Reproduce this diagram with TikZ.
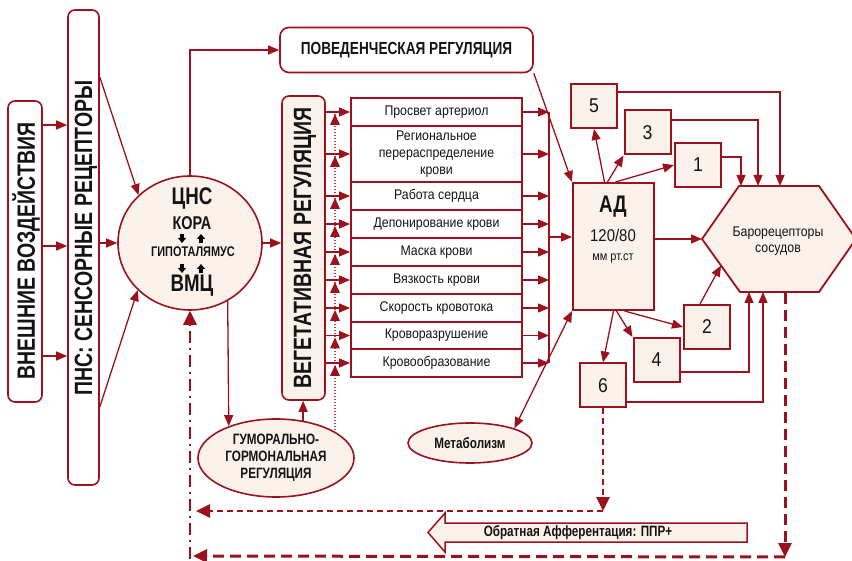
\documentclass[tikz,border=0pt]{standalone}
\usepackage{fontspec}
\usetikzlibrary{arrows.meta,shapes.geometric,calc}
\setmainfont{Liberation Sans}
\newfontfamily\fB{Liberation Sans}[FakeStretch=0.78]
\newfontfamily\fR{Liberation Sans}[FakeStretch=0.88]
\definecolor{dr}{RGB}{155,18,28}
\definecolor{bg}{RGB}{251,241,235}
\definecolor{tx}{RGB}{20,20,20}
\begin{document}
\begin{tikzpicture}[x=1pt,y=-1pt,
  tipa/.style={-{Triangle[length=11pt,width=9pt]}},
  con/.style={draw=dr, line width=1.3pt, tipa},
  bigtip/.style={-{Triangle[length=14pt,width=13pt]}},
  rbox/.style={draw=dr, line width=1.6pt, rounded corners=7pt, fill=white, inner sep=0pt},
  rot/.style={rotate=90, text=tx, inner sep=0pt, font=\fB\bfseries\fontsize{25}{25}\selectfont},
  lbox/.style={draw=dr, line width=1.8pt, fill=white, minimum width=171pt, inner sep=0pt, text=tx, align=center, font=\fR\fontsize{14}{17}\selectfont},
  nbox/.style={draw=dr, line width=2pt, fill=bg, minimum width=46pt, minimum height=44pt, inner sep=0pt, text=tx, font=\fR\fontsize{20}{20}\selectfont},
  btxt/.style={text=tx, inner sep=0pt, align=center},
  sa/.style={draw=black, line width=3.2pt, -{Triangle[length=5pt,width=8pt]}},
  fdash/.style={draw=dr, line width=3pt, dash pattern=on 11pt off 6pt, bigtip},
  sdash/.style={draw=dr, line width=2.6pt, dash pattern=on 6pt off 4pt, bigtip}
]
\useasboundingbox (0,0) rectangle (852,561);

% left boxes
\node[rbox, minimum width=34pt, minimum height=301pt] (ext) at (25,251.5) {};
\node[rot] (extt) at (26,251) {ВНЕШНИЕ ВОЗДЕЙСТВИЯ};
\node[rbox, minimum width=31pt, minimum height=475pt] (pns) at (83.5,247.5) {};
\node[rot] (pnst) at (86,238) {ПНС: СЕНСОРНЫЕ РЕЦЕПТОРЫ};

\draw[con] ([yshift=126.5pt]ext.east) -- ([yshift=126.5pt]ext.east -| pns.west);
\draw[con] ([yshift=5.5pt]ext.east) -- ([yshift=5.5pt]ext.east -| pns.west);
\draw[con] ([yshift=-104.5pt]ext.east) -- ([yshift=-104.5pt]ext.east -| pns.west);

% CNS
\node[draw=dr, line width=1.6pt, fill=bg, ellipse, minimum width=144pt, minimum height=134pt, inner sep=0pt] (cns) at (190,243) {};
\node[btxt, font=\fB\bfseries\fontsize{24}{24}\selectfont] (cnst) at (192,198.5) {ЦНС};
\node[btxt, font=\fB\bfseries\fontsize{18.5}{18}\selectfont] (kora) at (192,223.5) {КОРА};
\node[btxt, font=\fB\bfseries\fontsize{14}{14}\selectfont] (gip) at (193,252) {ГИПОТАЛЯМУС};
\node[btxt, font=\fB\bfseries\fontsize{24}{24}\selectfont] (vmc) at (192,286) {ВМЦ};
\coordinate (k1) at (182,234); \coordinate (k2) at (182,243);
\coordinate (k3) at (201,243); \coordinate (k4) at (201,234);
\coordinate (g1) at (182,264); \coordinate (g2) at (182,273);
\coordinate (g3) at (201,273); \coordinate (g4) at (201,264);
\draw[sa] (k1) -- (k2); \draw[sa] (k3) -- (k4);
\draw[sa] (g1) -- (g2); \draw[sa] (g3) -- (g4);

\draw[con] ([yshift=170.5pt]pns.east) -- (cns.137);
\draw[con] (pns.east |- cns.west) -- (cns.west);
\draw[con] ([yshift=-159.5pt]pns.east) -- (cns.222);

% behavioural
\node[rbox, minimum width=253pt, minimum height=45pt, rounded corners=9pt, text=tx, font=\fB\bfseries\fontsize{17.5}{17}\selectfont] (pov) at (406.5,50) {ПОВЕДЕНЧЕСКАЯ РЕГУЛЯЦИЯ};
\draw[con] (cns.north) |- (pov.west);

% vegetative
\node[rbox, fill=bg, minimum width=43pt, minimum height=304pt] (veg) at (303.5,248) {};
\node[rot] (vegt) at (305,248) {ВЕГЕТАТИВНАЯ РЕГУЛЯЦИЯ};
\draw[con] (cns.east) -- (cns.east -| veg.west);

% list
\node[lbox, minimum height=28pt] (r1) at (436.5,112) {Просвет артериол};
\node[lbox, minimum height=56pt] (r2) at (436.5,154) {Региональное\\перераспределение\\крови};
\node[lbox, minimum height=28pt] (r3) at (436.5,196) {Работа сердца};
\node[lbox, minimum height=28pt] (r4) at (436.5,224) {Депонирование крови};
\node[lbox, minimum height=28pt] (r5) at (436.5,252) {Маска крови};
\node[lbox, minimum height=28pt] (r6) at (436.5,280) {Вязкость крови};
\node[lbox, minimum height=28pt] (r7) at (436.5,308) {Скорость кровотока};
\node[lbox, minimum height=27pt] (r8) at (436.5,335.5) {Кроворазрушение};
\node[lbox, minimum height=28pt] (r9) at (436.5,363) {Кровообразование};

% dotted line from humoral
\coordinate (d0) at (335,430);
\coordinate (d1) at (335,112);
\draw[dr!80, line width=1.1pt, dash pattern=on 1pt off 2pt] (d0) -- (d1);

\coordinate (c1) at (549,112);
\coordinate (c9) at (549,363);
\coordinate (cm) at (549,237);
\draw[dr, line width=1.3pt] (c1) -- (c9);
\foreach \i in {1,...,9}{
  \draw[con] (r\i.east) -- (r\i.east -| c1);
  \draw[con] (r\i.west -| veg.east) -- (r\i.west);
  \coordinate (ta\i) at (r\i.west -| d0);
  \fill[dr] ([shift={(-5,13)}]ta\i) -- ([shift={(5,13)}]ta\i) -- ([shift={(0,2)}]ta\i) -- cycle;
}

% AD
\node[draw=dr, line width=2pt, fill=bg, minimum width=81pt, minimum height=127pt, inner sep=0pt] (ad) at (613.5,246.5) {};
\node[btxt, font=\fB\bfseries\fontsize{24}{24}\selectfont] (adt) at (613,207) {АД};
\node[btxt, font=\fR\fontsize{17}{17}\selectfont] (adn) at (613,235) {120/80};
\node[btxt, font=\fR\fontsize{12.5}{13}\selectfont] (adu) at (613,258) {мм рт.ст};
\draw[con] (cm) -- (cm -| ad.west);
\draw[con] (pov.south east) -- (ad.north west);

% number boxes
\node[nbox] (b5) at (594,106) {5};
\node[nbox] (b3) at (647.5,132.5) {3};
\node[nbox] (b1) at (698,165) {1};
\node[nbox] (b2) at (707,327) {2};
\node[nbox] (b4) at (656.5,360) {4};
\node[nbox] (b6) at (603,385.5) {6};

\draw[con] ([xshift=-9pt]ad.north) -- (b5.south);
\draw[con] ([xshift=-6pt]ad.north) -- (b3.south west);
\draw[con] ([xshift=2pt]ad.north) -- (b1.west);
\draw[con] ([xshift=11pt]ad.south) -- (b2.west);
\draw[con] ([xshift=3pt]ad.south) -- (b4.north west);
\draw[con] ([xshift=0pt]ad.south) -- (b6.north);

% hexagon
\coordinate (hL) at (702,239);
\coordinate (hTL) at (739,186);
\coordinate (hTR) at (819,186);
\coordinate (hR) at (856,239);
\coordinate (hBR) at (819,292);
\coordinate (hBL) at (740,292);
\draw[draw=dr, line width=1.8pt, fill=bg] (hL) -- (hTL) -- (hTR) -- (hR) -- (hBR) -- (hBL) -- cycle;
\node[btxt, font=\fR\fontsize{14}{16}\selectfont] (baro) at (778,241) {Барорецепторы\\сосудов};
\coordinate (h5) at (780,186);
\coordinate (h3) at (758,186);
\coordinate (h1) at (741,186);
\coordinate (h4) at (749,292);
\coordinate (h6) at (763,292);
\coordinate (hd) at (785,293);
\coordinate (h2) at ($(hL)!0.5!(hBL)$);

\draw[con] (ad.east |- hL) -- (hL);
\draw[con] ([yshift=14pt]b5.east) -| (h5);
\draw[con] ([yshift=12.5pt]b3.east) -| (h3);
\draw[con] ([yshift=8pt]b1.east) -| (h1);
\draw[con] ([yshift=-12pt]b4.east) -| (h4);
\draw[con] ([yshift=-16.5pt]b6.east) -| (h6);
\draw[con] ([xshift=-7pt]b2.north) -- (h2);

% humoral
\node[draw=dr, line width=1.6pt, fill=bg, ellipse, minimum width=156pt, minimum height=78pt, inner sep=0pt, btxt, font=\fB\bfseries\fontsize{15}{17}\selectfont] (hum) at (276,458) {ГУМОРАЛЬНО-\\ГОРМОНАЛЬНАЯ\\РЕГУЛЯЦИЯ};
\draw[con] (cns.-57) -- (hum.146);
\draw[con] (hum.54) -- (hum.54 |- veg.south);

% metabolism
\node[draw=dr, line width=1.6pt, fill=bg, ellipse, minimum width=124pt, minimum height=40pt, inner sep=0pt, btxt, font=\fB\bfseries\fontsize{15}{15}\selectfont] (met) at (470,443) {Метаболизм};
\draw[draw=dr, line width=1.3pt, {Triangle[length=11pt,width=9pt]}-{Triangle[length=11pt,width=9pt]}] (met.north east) -- (ad.south west);

% dashed feedback
\coordinate (q1) at (785,557);
\coordinate (q2) at (193,556);
\coordinate (q3) at (190,559);
\coordinate (p1) at (603,511);
\coordinate (p2) at (196,511);
\draw[fdash] (hd) -- (q1);
\draw[fdash] (q1) -- (q2);
\draw[draw=dr, line width=2.8pt, dash pattern=on 12pt off 5pt on 2pt off 5pt, bigtip] (q3) -- (cns.south);
\draw[sdash] (b6.south) -- (p1);
\draw[sdash] (p1) -- (p2);

% block arrow
\draw[draw=dr, line width=1.5pt, fill=bg] (747,523) -- (445,523) -- (445,513) -- (428,532.5) -- (445,552) -- (445,542) -- (747,542) -- cycle;
\node[btxt, font=\fB\bfseries\fontsize{15}{15}\selectfont] (obr) at (578,533) {Обратная Афферентация: ППР+};
\end{tikzpicture}
\end{document}
